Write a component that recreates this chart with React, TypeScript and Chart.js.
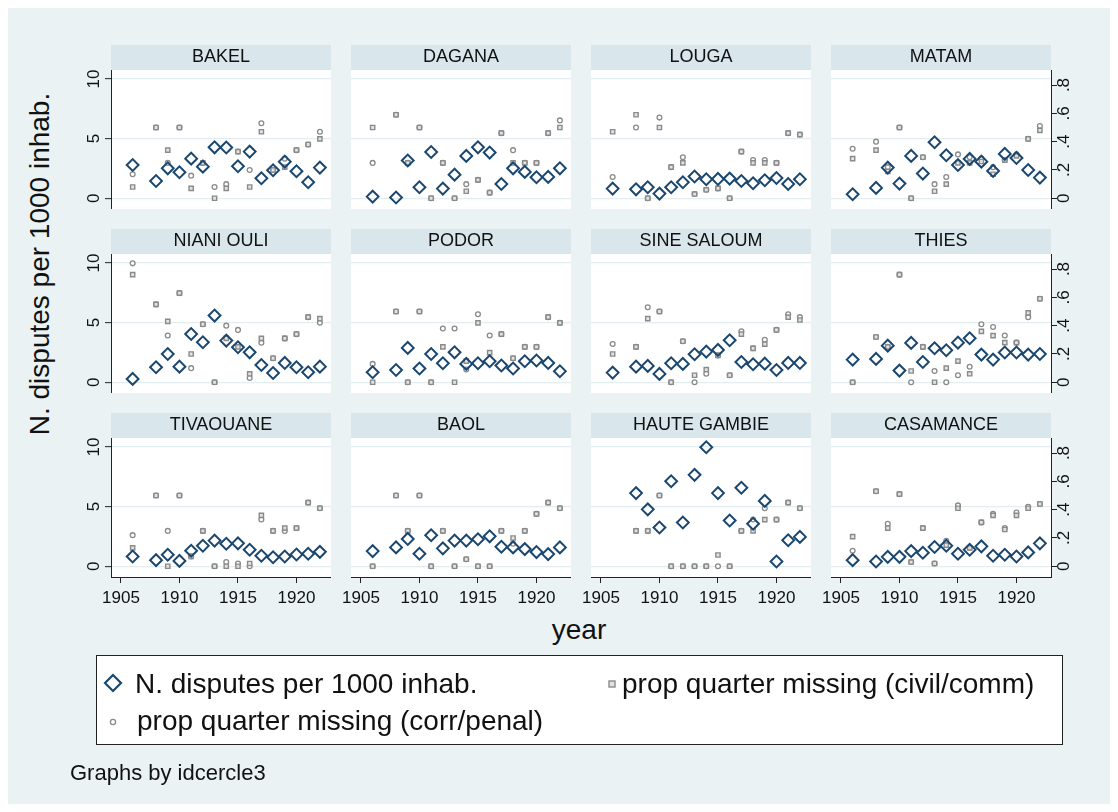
import React, { useEffect, useRef } from 'react';
import { Chart, registerables } from 'chart.js';

Chart.register(...registerables);

const FONT = "'Liberation Sans', Arial, Helvetica, sans-serif";
const BG = '#EAF2F3';
const STRIP = '#D9E6EB';
const GRID = '#E3ECEF';
const NAVY = '#1A476F';
const GRAY = '#8A8A8A';

const years = [1906, 1908, 1909, 1910, 1911, 1912, 1913, 1914, 1915, 1916, 1917, 1918, 1919, 1920, 1921, 1922];
const xTicks = [1905, 1910, 1915, 1920];
const leftTicks = [0, 5, 10];
const rightTicks = [0, 0.2, 0.4, 0.6, 0.8];
const rightTickLabels = ['0', '.2', '.4', '.6', '.8'];

const regions = ['BAKEL', 'DAGANA', 'LOUGA', 'MATAM', 'NIANI OULI', 'PODOR', 'SINE SALOUM', 'THIES', 'TIVAOUANE', 'BAOL', 'HAUTE GAMBIE', 'CASAMANCE'];

const bakelDisputes = [2.79, 1.45, 2.51, 2.18, 3.32, 2.65, 4.27, 4.25, 2.68, 3.91, 1.68, 2.35, 3.07, 2.26, 1.34, 2.57];
const bakelCivil = [0.08, 0.5, 0.34, 0.5, 0.07, 0.25, 0, 0.07, 0.33, 0.08, 0.47, 0.2, 0.22, 0.34, 0.38, 0.42];
const bakelPenal = [0.17, 0.5, 0.25, 0.5, 0.16, 0.25, 0.08, 0.1, 0.33, 0.2, 0.53, 0.2, 0.28, 0.34, 0.38, 0.47];

const daganaDisputes = [0.14, 0.06, 3.16, 0.92, 3.88, 0.81, 1.98, 3.55, 4.27, 3.83, 1.2, 2.51, 2.21, 1.76, 1.79, 2.51];
const daganaCivil = [0.5, 0.59, 0.25, 0.5, 0, 0.25, 0, 0.05, 0.13, 0.04, 0.46, 0.25, 0.25, 0.25, 0.46, 0.5];
const daganaPenal = [0.25, 0.59, 0.25, 0.5, 0, 0.25, 0, 0.1, 0.13, 0.04, 0.46, 0.34, 0.25, 0.25, 0.46, 0.55];

const lougaDisputes = [0.81, 0.75, 0.92, 0.39, 0.92, 1.34, 1.82, 1.59, 1.62, 1.65, 1.45, 1.26, 1.51, 1.7, 1.2, 1.59];
const lougaCivil = [0.47, 0.59, 0, 0.5, 0.22, 0.25, 0.03, 0.06, 0.07, 0, 0.33, 0.25, 0.25, 0.25, 0.46, 0.45];
const lougaPenal = [0.15, 0.5, 0, 0.57, 0.22, 0.29, 0.03, 0.06, 0.07, 0, 0.33, 0.27, 0.27, 0.25, 0.46, 0.45];

const matamDisputes = [0.34, 0.87, 2.57, 1.23, 3.55, 2.07, 4.69, 3.6, 2.79, 3.3, 3.07, 2.29, 3.72, 3.38, 2.37, 1.73];
const matamCivil = [0.28, 0.34, 0.19, 0.5, 0, 0.29, 0.05, 0.1, 0.25, 0.25, 0.26, 0.17, 0.27, 0.3, 0.42, 0.48];
const matamPenal = [0.35, 0.4, 0.22, 0.5, 0, 0.29, 0.1, 0.15, 0.31, 0.29, 0.28, 0.22, 0.27, 0.31, 0.42, 0.51];

const nianiDisputes = [0.28, 1.26, 2.37, 1.31, 4.05, 3.35, 5.59, 3.49, 2.93, 2.51, 1.45, 0.78, 1.62, 1.26, 0.84, 1.31];
const nianiCivil = [0.76, 0.55, 0.43, 0.63, 0.2, 0.41, 0, 0.31, 0.25, 0.06, 0.31, 0.17, 0.31, 0.34, 0.46, 0.45];
const nianiPenal = [0.84, 0.55, 0.33, 0.63, 0.1, 0.41, 0, 0.4, 0.37, 0.03, 0.28, 0.17, 0.31, 0.34, 0.46, 0.42];

const podorDisputes = [0.84, 1.03, 2.88, 1.15, 2.37, 1.59, 2.51, 1.54, 1.59, 1.76, 1.4, 1.15, 1.76, 1.82, 1.62, 0.92];
const podorCivil = [0, 0.5, 0, 0.5, 0, 0.25, 0, 0.15, 0.42, 0.21, 0.34, 0.17, 0.25, 0.25, 0.46, 0.42];
const podorPenal = [0.13, 0.5, 0, 0.5, 0, 0.38, 0.38, 0.09, 0.48, 0.33, 0.34, 0.17, 0.25, 0.25, 0.46, 0.42];

const sineDisputes = [0.81, 1.31, 1.37, 0.7, 1.59, 1.54, 2.35, 2.57, 2.71, 3.52, 1.7, 1.51, 1.56, 1.03, 1.62, 1.62];
const sineCivil = [0.2, 0.25, 0.45, 0.5, 0, 0.29, 0.05, 0.09, 0.19, 0.05, 0.34, 0.24, 0.27, 0.37, 0.46, 0.44];
const sinePenal = [0.27, 0.25, 0.53, 0.5, 0, 0.29, 0, 0.06, 0.19, 0.05, 0.36, 0.24, 0.3, 0.37, 0.48, 0.46];

const thiesDisputes = [1.9, 1.96, 3.07, 0.98, 3.3, 1.7, 2.85, 2.68, 3.32, 3.69, 2.32, 1.9, 2.49, 2.49, 2.32, 2.37];
const thiesCivil = [0, 0.32, 0.25, 0.76, 0.08, 0.25, 0, 0.1, 0.15, 0.06, 0.36, 0.33, 0.28, 0.28, 0.49, 0.59];
const thiesPenal = [0, 0.32, 0.25, 0.76, 0, 0.25, 0.08, 0, 0.05, 0.11, 0.41, 0.39, 0.33, 0.28, 0.46, 0.59];

const tivaouaneDisputes = [0.82, 0.51, 0.96, 0.45, 1.3, 1.72, 2.15, 1.89, 1.92, 1.38, 0.88, 0.76, 0.82, 0.99, 1.05, 1.21];
const tivaouaneCivil = [0.13, 0.5, 0, 0.5, 0.07, 0.25, 0, 0, 0, 0.02, 0.36, 0.25, 0.27, 0.27, 0.45, 0.41];
const tivaouanePenal = [0.22, 0.5, 0.25, 0.5, 0.07, 0.25, 0, 0.03, 0.02, 0, 0.33, 0.25, 0.25, 0.27, 0.45, 0.41];

const baolDisputes = [1.27, 1.58, 2.29, 1.05, 2.6, 1.5, 2.15, 2.15, 2.26, 2.51, 1.64, 1.58, 1.44, 1.19, 1.02, 1.58];
const baolCivil = [0, 0.5, 0.25, 0.5, 0, 0.25, 0, 0.05, 0, 0, 0.25, 0.2, 0.25, 0.37, 0.45, 0.41];
const baolPenal = [0, 0.5, 0.25, 0.5, 0, 0.25, 0, 0.05, 0, 0, 0.25, 0.16, 0.25, 0.37, 0.45, 0.41];

const hauteGambieDisputes = [null, 6.13, 4.77, 3.25, 7.12, 3.67, 7.66, 9.97, 6.13, 3.84, 6.58, 3.56, 5.48, 0.4, 2.18, 2.46];
const hauteGambieCivil = [null, 0.25, 0.25, 0.5, 0, 0, 0, 0, 0.08, 0, 0.25, 0.25, 0.33, 0.33, 0.45, 0.41];
const hauteGambiePenal = [null, 0.25, 0.25, 0.5, 0, 0, 0, 0, 0, 0, 0.25, 0.33, 0.41, 0.33, 0.45, 0.41];

const casamanceDisputes = [0.51, 0.4, 0.79, 0.79, 1.27, 1.13, 1.61, 1.72, 1.05, 1.38, 1.67, 0.88, 0.96, 0.82, 1.16, 1.92];
const casamanceCivil = [0.21, 0.53, 0.27, 0.51, 0.03, 0.27, 0.02, 0.15, 0.41, 0.13, 0.31, 0.36, 0.26, 0.36, 0.41, 0.44];
const casamancePenal = [0.11, 0.53, 0.3, 0.51, 0.03, 0.27, 0.02, 0.18, 0.43, 0.13, 0.31, 0.37, 0.27, 0.38, 0.42, 0.44];

const panels = [
  { name: regions[0], disputes: bakelDisputes, civil: bakelCivil, penal: bakelPenal },
  { name: regions[1], disputes: daganaDisputes, civil: daganaCivil, penal: daganaPenal },
  { name: regions[2], disputes: lougaDisputes, civil: lougaCivil, penal: lougaPenal },
  { name: regions[3], disputes: matamDisputes, civil: matamCivil, penal: matamPenal },
  { name: regions[4], disputes: nianiDisputes, civil: nianiCivil, penal: nianiPenal },
  { name: regions[5], disputes: podorDisputes, civil: podorCivil, penal: podorPenal },
  { name: regions[6], disputes: sineDisputes, civil: sineCivil, penal: sinePenal },
  { name: regions[7], disputes: thiesDisputes, civil: thiesCivil, penal: thiesPenal },
  { name: regions[8], disputes: tivaouaneDisputes, civil: tivaouaneCivil, penal: tivaouanePenal },
  { name: regions[9], disputes: baolDisputes, civil: baolCivil, penal: baolPenal },
  { name: regions[10], disputes: hauteGambieDisputes, civil: hauteGambieCivil, penal: hauteGambiePenal },
  { name: regions[11], disputes: casamanceDisputes, civil: casamanceCivil, penal: casamancePenal },
];

// layout (page coordinates, container sits at 8,8)
const OFF = 8;
const PLOT_LEFTS = [111, 351, 591, 831];
const PLOT_W = 220;
const STRIP_TOPS = [45, 229, 413];
const STRIP_H = 25;
const PLOT_H = 139;
const LW = 40; // visible left axis (first column)
const LPAD = 20; // blank margin left of other columns (room for x tick labels)
const RW = 40;
const XH = 34;

const panelBg = {
  id: 'panelBg',
  beforeDraw(chart: any) {
    const { ctx, chartArea: a } = chart;
    const tb = chart.titleBlock;
    ctx.save();
    ctx.fillStyle = '#ffffff';
    ctx.fillRect(a.left, a.top, a.right - a.left, a.bottom - a.top);
    if (tb) {
      ctx.fillStyle = STRIP;
      ctx.fillRect(tb.left, tb.top, tb.width, tb.height);
    }
    ctx.restore();
  },
};

function makeConfig(p: any, col: number, row: number) {
  const showLeft = col === 0;
  const showRight = col === 3;
  const showX = row === 2;
  const tickFont = { family: FONT, size: 17 };
  const pts = (arr: (number | null)[]) =>
    years.map((yr, i) => ({ x: yr, y: arr[i] })).filter((d) => d.y !== null);
  return {
    type: 'scatter',
    data: {
      datasets: [
        {
          label: 'N. disputes per 1000 inhab.',
          data: pts(p.disputes),
          yAxisID: 'y',
          pointStyle: 'rectRot',
          pointRadius: 5.9,
          pointBorderWidth: 2,
          borderColor: NAVY,
          backgroundColor: 'rgba(0,0,0,0)',
          pointBackgroundColor: 'rgba(0,0,0,0)',
          pointBorderColor: NAVY,
          clip: false,
        },
        {
          label: 'prop quarter missing (civil/comm)',
          data: pts(p.civil),
          yAxisID: 'y2',
          pointStyle: 'rect',
          pointRadius: 3,
          pointBorderWidth: 1.4,
          pointBorderColor: GRAY,
          pointBackgroundColor: 'rgba(225,225,225,0.9)',
          clip: false,
        },
        {
          label: 'prop quarter missing (corr/penal)',
          data: pts(p.penal),
          yAxisID: 'y2',
          pointStyle: 'circle',
          pointRadius: 2.4,
          pointBorderWidth: 1.3,
          pointBorderColor: GRAY,
          pointBackgroundColor: 'rgba(255,255,255,0.9)',
          clip: false,
        },
      ],
    },
    options: {
      responsive: false,
      animation: false,
      events: [],
      layout: { padding: 0, autoPadding: false },
      plugins: {
        legend: { display: false },
        tooltip: { enabled: false },
        title: {
          display: true,
          text: p.name,
          fullSize: false,
          color: '#111',
          font: { family: FONT, size: 18, weight: 'normal', lineHeight: STRIP_H / 18 },
          padding: 0,
        },
      },
      scales: {
        x: {
          type: 'linear',
          min: 1904.15,
          max: 1922.95,
          display: showX,
          afterBuildTicks: (s: any) => {
            s.ticks = xTicks.map((v) => ({ value: v }));
          },
          afterFit: (s: any) => {
            s.height = showX ? XH : 0;
            s.paddingLeft = 0;
            s.paddingRight = 0;
          },
          grid: { display: true, drawOnChartArea: false, drawTicks: true, tickLength: 6, tickColor: '#222', tickWidth: 1 },
          border: { display: true, color: '#222', width: 1 },
          ticks: {
            color: '#111',
            font: tickFont,
            padding: 5,
            minRotation: 0,
            maxRotation: 0,
            autoSkip: false,
            callback: (v: any) => String(v),
          },
        },
        y: {
          type: 'linear',
          position: 'left',
          min: -0.9,
          max: 10.75,
          afterBuildTicks: (s: any) => {
            s.ticks = leftTicks.map((v) => ({ value: v }));
          },
          afterFit: (s: any) => {
            s.width = showLeft ? LW : LPAD;
            s.paddingTop = 0;
            s.paddingBottom = 0;
          },
          grid: { color: GRID, lineWidth: 1.3, drawTicks: showLeft, tickLength: 6, tickColor: '#222', tickWidth: 1 },
          border: { display: showLeft, color: '#222', width: 1 },
          ticks: {
            display: showLeft,
            color: '#111',
            font: tickFont,
            padding: 1,
            minRotation: 90,
            maxRotation: 90,
            crossAlign: 'center',
            autoSkip: false,
            callback: (v: any) => String(v),
          },
        },
        y2: {
          type: 'linear',
          position: 'right',
          min: -0.0756,
          max: 0.906,
          display: showRight,
          afterBuildTicks: (s: any) => {
            s.ticks = rightTicks.map((v) => ({ value: v }));
          },
          afterFit: (s: any) => {
            s.width = showRight ? RW : 0;
            s.paddingTop = 0;
            s.paddingBottom = 0;
          },
          grid: { drawOnChartArea: false, drawTicks: true, tickLength: 6, tickColor: '#222', tickWidth: 1 },
          border: { display: true, color: '#222', width: 1 },
          ticks: {
            color: '#111',
            font: tickFont,
            padding: 0,
            minRotation: 90,
            maxRotation: 90,
            crossAlign: 'center',
            autoSkip: false,
            callback: (v: any) => {
              const i = rightTicks.indexOf(v);
              return i >= 0 ? rightTickLabels[i] : '';
            },
          },
        },
      },
    },
    plugins: [panelBg],
  };
}

function Panel({ p, idx }: { p: any; idx: number }) {
  const ref = useRef<HTMLCanvasElement | null>(null);
  const col = idx % 4;
  const row = Math.floor(idx / 4);
  const lw = col === 0 ? LW : LPAD;
  const w = PLOT_W + lw + (col === 3 ? RW : 0);
  const h = STRIP_H + PLOT_H + (row === 2 ? XH : 0);
  const left = PLOT_LEFTS[col] - lw - OFF;
  const top = STRIP_TOPS[row] - OFF;
  useEffect(() => {
    const chart = new Chart(ref.current as HTMLCanvasElement, makeConfig(p, col, row) as any);
    return () => chart.destroy();
  }, []);
  return (
    <canvas
      ref={ref}
      width={w}
      height={h}
      style={{ position: 'absolute', left, top, width: w, height: h }}
    />
  );
}

const txt: React.CSSProperties = {
  position: 'absolute',
  fontFamily: FONT,
  color: '#111',
  whiteSpace: 'nowrap',
};

export default function App() {
  return (
    <div style={{ position: 'relative', width: 1102, height: 796, background: BG, overflow: 'hidden' }}>
      {panels.map((p, i) => (
        <Panel key={p.name} p={p} idx={i} />
      ))}
      {/* y axis title */}
      <div
        style={{
          ...txt,
          fontSize: 28,
          lineHeight: '32px',
          width: 500,
          textAlign: 'center',
          left: 40 - OFF - 250,
          top: 264 - OFF - 16,
          transform: 'rotate(-90deg)',
          transformOrigin: '50% 50%',
        }}
      >
        N. disputes per 1000 inhab.
      </div>
      {/* x axis title */}
      <div style={{ ...txt, fontSize: 28, lineHeight: '32px', width: 200, textAlign: 'center', left: 579 - OFF - 100, top: 630 - OFF - 16 }}>
        year
      </div>
      {/* legend */}
      <div
        style={{
          position: 'absolute',
          left: 96 - OFF,
          top: 655 - OFF,
          width: 967,
          height: 90,
          boxSizing: 'border-box',
          background: '#ffffff',
          border: '1px solid #222',
        }}
      />
      <svg style={{ position: 'absolute', left: 0, top: 0 }} width={1102} height={796}>
        <polygon
          points={`${113 - OFF},${675 - OFF} ${121 - OFF},${683 - OFF} ${113 - OFF},${691 - OFF} ${105 - OFF},${683 - OFF}`}
          fill="none"
          stroke={NAVY}
          strokeWidth={2.2}
        />
        <rect x={609 - OFF} y={681 - OFF} width={6} height={6} fill="#e1e1e1" stroke={GRAY} strokeWidth={1.4} />
        <circle cx={113 - OFF} cy={722 - OFF} r={2.6} fill="#fff" stroke={GRAY} strokeWidth={1.3} />
      </svg>
      <div style={{ ...txt, fontSize: 28, lineHeight: '32px', left: 135 - OFF, top: 684 - OFF - 16 }}>
        N. disputes per 1000 inhab.
      </div>
      <div style={{ ...txt, fontSize: 28, lineHeight: '32px', left: 622 - OFF, top: 684 - OFF - 16 }}>
        prop quarter missing (civil/comm)
      </div>
      <div style={{ ...txt, fontSize: 28, lineHeight: '32px', left: 137 - OFF, top: 721 - OFF - 16 }}>
        prop quarter missing (corr/penal)
      </div>
      {/* note */}
      <div style={{ ...txt, fontSize: 22, lineHeight: '26px', left: 70 - OFF, top: 773 - OFF - 13 }}>
        Graphs by idcercle3
      </div>
    </div>
  );
}
